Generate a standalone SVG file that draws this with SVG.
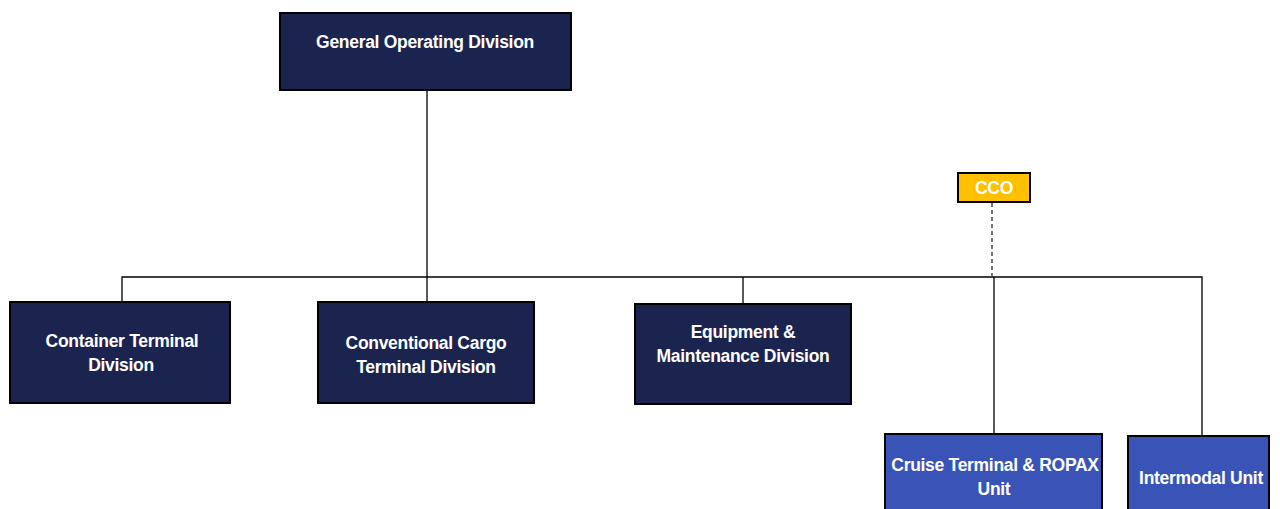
<svg xmlns="http://www.w3.org/2000/svg" width="1280" height="509" viewBox="0 0 1280 509">
  <style>
    .div { fill: #1b244f; stroke: #000; stroke-width: 2; }
    .unit { fill: #3953b6; stroke: #000; stroke-width: 2; }
    .cco { fill: #ffc000; stroke: #000; stroke-width: 2; }
    .lbl { font-family: "Liberation Sans", Arial, sans-serif; font-weight: bold; font-size: 17.5px; fill: #fff; text-anchor: middle; dominant-baseline: central; letter-spacing: -0.3px; }
    .link { stroke: #000; stroke-width: 1.3; fill: none; }
    .dash { stroke: #444; stroke-width: 1.5; stroke-dasharray: 4 3; fill: none; }
  </style>
  <rect width="1280" height="509" fill="#fff"/>

  <g id="connectors">
    <path class="link" d="M427 90 V277"/>
    <path class="link" d="M122 302 V277 H1202 V436"/>
    <path class="link" d="M427 277 V302"/>
    <path class="link" d="M743 277 V303"/>
    <path class="link" d="M994 277 V434"/>
    <path class="dash" d="M992 203 V277"/>
  </g>

  <g id="general-operating">
    <rect class="div" x="280" y="13" width="291" height="77"/>
    <text class="lbl" x="425" y="42">General Operating Division</text>
  </g>

  <g id="cco">
    <rect class="cco" x="958" y="173" width="72" height="29"/>
    <text class="lbl" x="994" y="188">CCO</text>
  </g>

  <g id="container-terminal">
    <rect class="div" x="10" y="302" width="220" height="101"/>
    <text class="lbl" x="122" y="341">Container Terminal</text>
    <text class="lbl" x="121" y="365">Division</text>
  </g>

  <g id="conventional-cargo">
    <rect class="div" x="318" y="302" width="216" height="101"/>
    <text class="lbl" x="426" y="343">Conventional Cargo</text>
    <text class="lbl" x="426" y="367">Terminal Division</text>
  </g>

  <g id="equipment-maintenance">
    <rect class="div" x="635" y="304" width="216" height="100"/>
    <text class="lbl" x="743" y="332">Equipment &amp;</text>
    <text class="lbl" x="743" y="356">Maintenance Division</text>
  </g>

  <g id="cruise-ropax">
    <rect class="unit" x="885" y="434" width="217" height="80"/>
    <text class="lbl" x="995" y="465">Cruise Terminal &amp; ROPAX</text>
    <text class="lbl" x="994" y="489">Unit</text>
  </g>

  <g id="intermodal">
    <rect class="unit" x="1128" y="436" width="141" height="78"/>
    <text class="lbl" x="1201" y="478">Intermodal Unit</text>
  </g>
</svg>
